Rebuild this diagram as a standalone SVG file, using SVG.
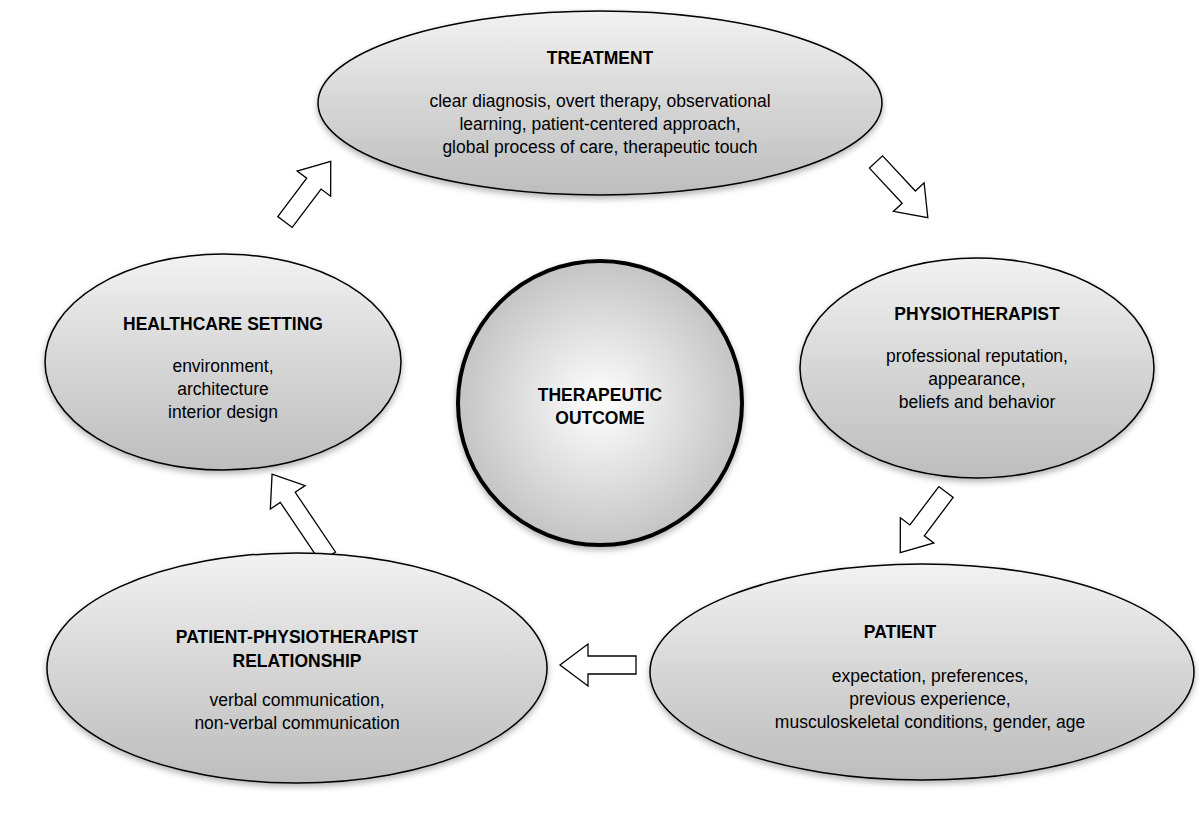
<svg xmlns="http://www.w3.org/2000/svg" width="1200" height="824" viewBox="0 0 1200 824">
<defs>
<linearGradient id="g" x1="0" y1="0" x2="0" y2="1"><stop offset="0" stop-color="#f2f2f2"/><stop offset="0.5" stop-color="#d6d6d6"/><stop offset="1" stop-color="#bdbdbd"/></linearGradient>
<radialGradient id="rg" cx="0.5" cy="0.5" r="0.5"><stop offset="0" stop-color="#ffffff"/><stop offset="0.6" stop-color="#dcdcdc"/><stop offset="1" stop-color="#c4c4c4"/></radialGradient>
<polygon id="arr" points="0,-9 48,-9 48,-21 76,0 48,21 48,9 0,9"/>
<filter id="sh" x="-10%" y="-10%" width="120%" height="130%"><feDropShadow dx="0" dy="3" stdDeviation="3" flood-opacity="0.3"/></filter>
</defs>
<style>
.e{fill:url(#g);stroke:#000;stroke-width:1.5;filter:url(#sh)}
.t{font-family:"Liberation Sans",Arial,sans-serif;font-size:17.5px;text-anchor:middle;fill:#000}
.b{font-weight:bold}
.a{fill:#fff;stroke:#000;stroke-width:1.3}
</style>
<rect width="1200" height="824" fill="#fff"/>
<g id="connectors">
<use href="#arr" class="a" transform="translate(285,222) rotate(-53)"/>
<use href="#arr" class="a" transform="translate(876,162) rotate(47)"/>
<use href="#arr" class="a" transform="translate(946,492) rotate(127)"/>
<use href="#arr" class="a" transform="translate(636,665) rotate(180)"/>
<polygon class="a" transform="translate(328,557) rotate(236)" points="0,-9 72,-9 72,-21 100,0 72,21 72,9 0,9"/>
</g>
<g id="treatment"><ellipse class="e" cx="600" cy="103" rx="282" ry="92"/>
<text class="t b" x="600" y="64">TREATMENT</text>
<text class="t" x="600" y="107">clear diagnosis, overt therapy, observational</text>
<text class="t" x="600" y="130">learning, patient-centered approach,</text>
<text class="t" x="600" y="153">global process of care, therapeutic touch</text></g>
<g id="healthcare"><ellipse class="e" cx="223" cy="362" rx="178" ry="108"/>
<text class="t b" x="223" y="330">HEALTHCARE SETTING</text>
<text class="t" x="223" y="372">environment,</text>
<text class="t" x="223" y="395">architecture</text>
<text class="t" x="223" y="418">interior design</text></g>
<g id="physio"><ellipse class="e" cx="977" cy="368" rx="177" ry="110"/>
<text class="t b" x="977" y="320">PHYSIOTHERAPIST</text>
<text class="t" x="977" y="362">professional reputation,</text>
<text class="t" x="977" y="385">appearance,</text>
<text class="t" x="977" y="408">beliefs and behavior</text></g>
<g id="relationship"><ellipse class="e" cx="297" cy="668" rx="250" ry="115"/>
<text class="t b" x="297" y="643">PATIENT-PHYSIOTHERAPIST</text>
<text class="t b" x="297" y="667">RELATIONSHIP</text>
<text class="t" x="297" y="706">verbal communication,</text>
<text class="t" x="297" y="729">non-verbal communication</text></g>
<g id="patient"><ellipse class="e" cx="922" cy="672" rx="272" ry="108"/>
<text class="t b" x="900" y="638">PATIENT</text>
<text class="t" x="930" y="682">expectation, preferences,</text>
<text class="t" x="930" y="705">previous experience,</text>
<text class="t" x="930" y="728">musculoskeletal conditions, gender, age</text></g>
<g id="outcome"><circle cx="600" cy="403" r="142" fill="url(#rg)" stroke="#000" stroke-width="4" filter="url(#sh)"/>
<text class="t b" x="600" y="401">THERAPEUTIC</text>
<text class="t b" x="600" y="424">OUTCOME</text></g>
</svg>
